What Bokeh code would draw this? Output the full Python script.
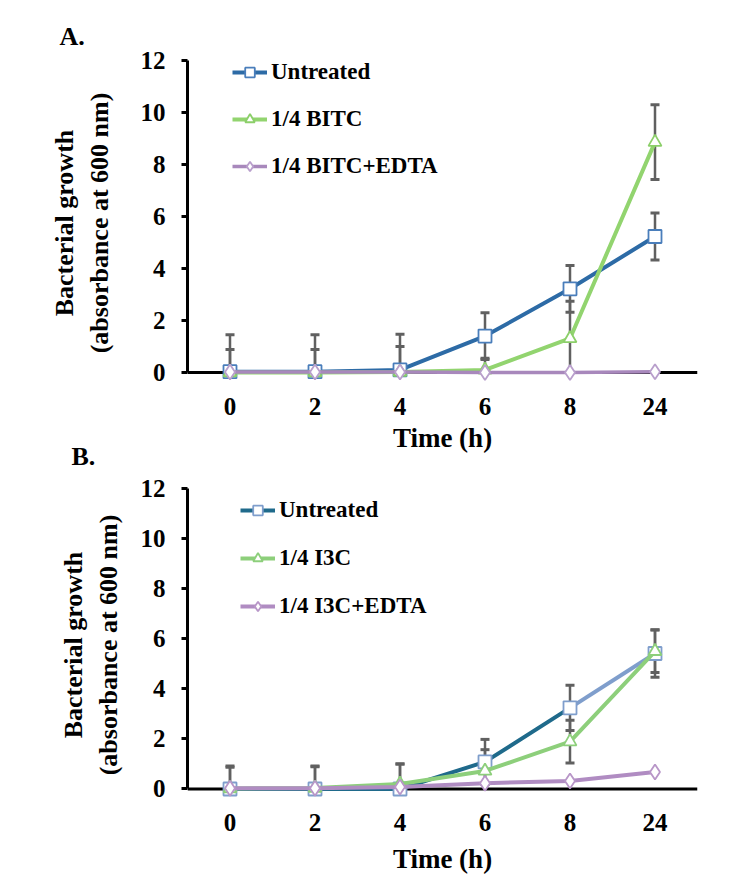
from bokeh.plotting import figure
from bokeh.models import Range1d, FixedTicker, Span, Legend, LegendItem
from bokeh.layouts import column
from bokeh.embed import file_html
from bokeh.resources import INLINE

FONT = "Liberation Serif"

# ---------------- data ----------------
times = ["0", "2", "4", "6", "8", "24"]
y_ticks = [0, 2, 4, 6, 8, 10, 12]
x_title = "Time (h)"
y_title = "Bacterial growth\n(absorbance at 600 nm)"

a_untreated = [0.03, 0.03, 0.10, 1.40, 3.22, 5.23]
a_untreated_err = [1.42, 1.42, 1.37, 0.90, 0.90, 0.90]
a_bitc = [0.0, 0.0, 0.02, 0.10, 1.31, 8.86]
a_bitc_err = [0.88, 0.88, 0.98, 0.45, 1.43, 1.44]
a_edta = [0.02, 0.02, 0.02, 0.0, 0.0, 0.03]
a_edta_err = [0, 0, 0, 0, 0, 0]

b_untreated = [0.0, 0.0, 0.0, 1.08, 3.24, 5.41]
b_untreated_err = [0.92, 0.92, 1.00, 0.90, 0.90, 0.95]
b_i3c = [0.02, 0.04, 0.20, 0.72, 1.89, 5.50]
b_i3c_err = [0.85, 0.85, 0.80, 0.85, 0.85, 0.85]
b_edta = [0.03, 0.03, 0.08, 0.23, 0.32, 0.68]
b_edta_err = [0, 0, 0, 0, 0, 0]

ERR_COLOR = "#606060"


def error_bars(p, vals, errs):
    xs, lo, hi, cx, cy = [], [], [], [], []
    for t, v, e in zip(times, vals, errs):
        if e <= 0:
            continue
        xs.append(t)
        lo.append(max(v - e, 0))
        hi.append(v + e)
        cx.append(t)
        cy.append(v + e)
        if v - e >= 0:
            cx.append(t)
            cy.append(v - e)
    p.segment(x0=xs, y0=lo, x1=xs, y1=hi, line_color=ERR_COLOR, line_width=2.5)
    p.scatter(x=cx, y=cy, marker="dash", size=9, line_color=ERR_COLOR, line_width=3)


def make_panel(letter, frame_left, frame_top, frame_h, bottom, right, title_offset,
               title_standoff, series, legend_xy, legend_spacing, label_standoff,
               xlabel_standoff, transparent=False):
    p = figure(x_range=times, y_range=Range1d(-0.5, 12),
               frame_width=510, frame_height=frame_h,
               min_border_left=frame_left, min_border_top=frame_top,
               min_border_bottom=bottom, min_border_right=right,
               toolbar_location=None, output_backend="svg")
    if transparent:
        p.background_fill_color = None
        p.border_fill_color = None
    else:
        p.background_fill_color = "white"
        p.border_fill_color = "white"
    p.outline_line_color = None
    p.grid.grid_line_color = None

    p.title.text = letter
    p.title.align = "left"
    p.title.offset = title_offset
    p.title.standoff = title_standoff
    p.title.text_font = FONT
    p.title.text_font_style = "bold"
    p.title.text_font_size = "26px"
    p.title.text_color = "black"

    # y axis
    ya = p.yaxis[0]
    ya.ticker = FixedTicker(ticks=y_ticks)
    ya.bounds = (0, 12)
    ya.axis_line_width = 3
    ya.axis_line_color = "black"
    ya.major_tick_line_width = 3
    ya.major_tick_line_color = "black"
    ya.major_tick_in = 0
    ya.major_tick_out = 6
    ya.minor_tick_line_color = None
    ya.major_label_standoff = 16
    ya.major_label_text_font = FONT
    ya.major_label_text_font_style = "bold"
    ya.major_label_text_font_size = "25px"
    ya.major_label_text_color = "black"
    ya.axis_label = y_title
    ya.axis_label_text_font = FONT
    ya.axis_label_text_font_style = "bold"
    ya.axis_label_text_font_size = "26px"
    ya.axis_label_text_color = "black"
    ya.axis_label_standoff = label_standoff

    # x axis
    xa = p.xaxis[0]
    xa.axis_line_color = None
    xa.major_tick_line_color = None
    xa.minor_tick_line_color = None
    xa.major_label_standoff = 6
    xa.major_label_text_font = FONT
    xa.major_label_text_font_style = "bold"
    xa.major_label_text_font_size = "25px"
    xa.major_label_text_color = "black"
    xa.axis_label = x_title
    xa.axis_label_text_font = FONT
    xa.axis_label_text_font_style = "bold"
    xa.axis_label_text_font_size = "27px"
    xa.axis_label_text_color = "black"
    xa.axis_label_standoff = xlabel_standoff

    p.add_layout(Span(location=0, dimension="width", line_color="black",
                      line_width=3, level="underlay"))

    for s in series:
        error_bars(p, s["vals"], s["errs"])

    items = []
    for s in series:
        if s.get("split"):
            k = s["split"]
            l1 = p.line(times[:k], s["vals"][:k], line_color=s["line"], line_width=4)
            p.line(times[k - 1:], s["vals"][k - 1:], line_color=s["line2"], line_width=4)
        else:
            l1 = p.line(times, s["vals"], line_color=s["line"], line_width=s.get("lw", 4))
        m = p.scatter(times, s["vals"], marker=s["marker"], size=s["size"],
                      fill_color="white", line_color=s["edge"], line_width=1.8)
        items.append(LegendItem(label=s["name"], renderers=[l1, m]))

    leg = Legend(items=items, location=legend_xy, orientation="vertical",
                 glyph_width=35, glyph_height=24, label_height=24,
                 spacing=legend_spacing, padding=0, margin=0, label_standoff=4,
                 border_line_color=None, background_fill_alpha=0,
                 label_text_font=FONT, label_text_font_style="bold",
                 label_text_font_size="23px", label_text_color="black")
    p.add_layout(leg)
    return p


series_a = [
    dict(name="Untreated", vals=a_untreated, errs=a_untreated_err, line="#2D6BA6",
         edge="#4A7EBB", marker="square", size=13),
    dict(name="1/4 BITC", vals=a_bitc, errs=a_bitc_err, line="#92D46F",
         edge="#8CCF6A", marker="triangle", size=13),
    dict(name="1/4 BITC+EDTA", vals=a_edta, errs=a_edta_err, line="#A888BC",
         edge="#B99FCC", marker="diamond", size=15, lw=3.5),
]

series_b = [
    dict(name="Untreated", vals=b_untreated, errs=b_untreated_err, line="#1F6A8B",
         line2="#7F9ECC", split=5, edge="#7F9ECC", marker="square", size=13),
    dict(name="1/4 I3C", vals=b_i3c, errs=b_i3c_err, line="#8DCF7B",
         edge="#8DCF7B", marker="triangle", size=13),
    dict(name="1/4 I3C+EDTA", vals=b_edta, errs=b_edta_err, line="#B08CC2",
         edge="#B896C8", marker="diamond", size=15),
]

# panel A: canvas 0..465, frame top 60
pA = make_panel("A.", 180, 60, 325, 80, 32, -128, 19, series_a,
                (45, 206), 21, 24, 5)
# panel B: canvas starts at 421 (overlapping A by 44 px), frame top 487
pB = make_panel("B.", 187, 66, 313, 76, 25, -116, 36, series_b,
                (53, 182), 22, 15, 10, transparent=True)
pB.margin = (-44, 0, 0, 0)

layout = column(pA, pB, spacing=0)
open("out.html", "w").write(file_html(layout, INLINE))
